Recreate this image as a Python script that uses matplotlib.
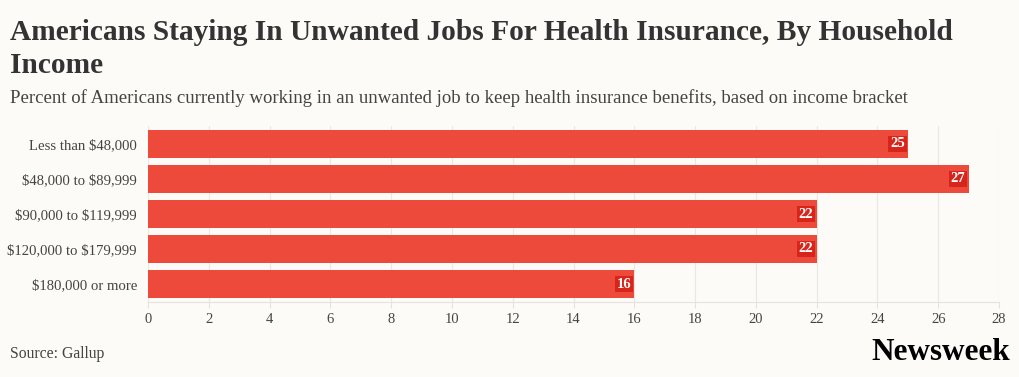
import matplotlib
matplotlib.use("Agg")
import matplotlib.pyplot as plt

plt.rcParams["text.parse_math"] = False

categories = ["Less than $48,000", "$48,000 to $89,999", "$90,000 to $119,999",
              "$120,000 to $179,999", "$180,000 or more"]
values = [25, 27, 22, 22, 16]
xticks = list(range(0, 29, 2))

BG = "#fcfbf7"
BAR = "#ee4a3b"
LBL = "#d8251b"
TXT = "#333333"
SERIF = ["Liberation Serif", "DejaVu Serif"]

fig = plt.figure(figsize=(10.2, 3.77), dpi=100, facecolor=BG)
ax = fig.add_axes([148/1020, 1-301.5/377, (999-148)/1020, 175/377])
ax.set_facecolor(BG)

y = list(range(len(categories)))
ax.barh(y, values, height=0.8, color=BAR, zorder=2)
for yi, v in zip(y, values):
    ax.text(v - 0.1, yi, str(v), ha="right", va="center", color="white",
            fontsize=10.5, fontweight="bold", family=SERIF, zorder=3,
            bbox=dict(boxstyle="square,pad=0.12", fc=LBL, ec="none"))

ax.set_xlim(0, 28)
ax.set_ylim(4.5, -0.5)
ax.set_xticks(xticks)
ax.set_xticklabels([str(t) for t in xticks], family=SERIF, fontsize=10.5, color="#444444")
ax.set_yticks(y)
ax.set_yticklabels(categories, family=SERIF, fontsize=10.6, color="#444444")
ax.tick_params(axis="y", length=0, pad=8)
ax.tick_params(axis="x", length=4, color="#e6e3dc", pad=4)
ax.grid(axis="x", color="#ebe8e1", linewidth=0.8, zorder=0)
for s in ["top", "right", "left"]:
    ax.spines[s].set_visible(False)
ax.spines["bottom"].set_color("#e6e3dc")

fig.text(10/1020, 1-40/377, "Americans Staying In Unwanted Jobs For Health Insurance, By Household",
         ha="left", va="baseline", family=SERIF, fontsize=21.2, fontweight="bold", color=TXT)
fig.text(10/1020, 1-73/377, "Income",
         ha="left", va="baseline", family=SERIF, fontsize=21.2, fontweight="bold", color=TXT)
fig.text(10/1020, 1-103/377, "Percent of Americans currently working in an unwanted job to keep health insurance benefits, based on income bracket",
         ha="left", va="baseline", family=SERIF, fontsize=13.5, color="#444444")
fig.text(10/1020, 1-358/377, "Source: Gallup", ha="left", va="baseline",
         family=SERIF, fontsize=11.3, color="#444444")
fig.text(1010/1020, 1-360/377, "Newsweek", ha="right", va="baseline",
         family=SERIF, fontsize=22.5, fontweight="bold", color="black")

fig.savefig("out.png", dpi=100, facecolor=BG)
